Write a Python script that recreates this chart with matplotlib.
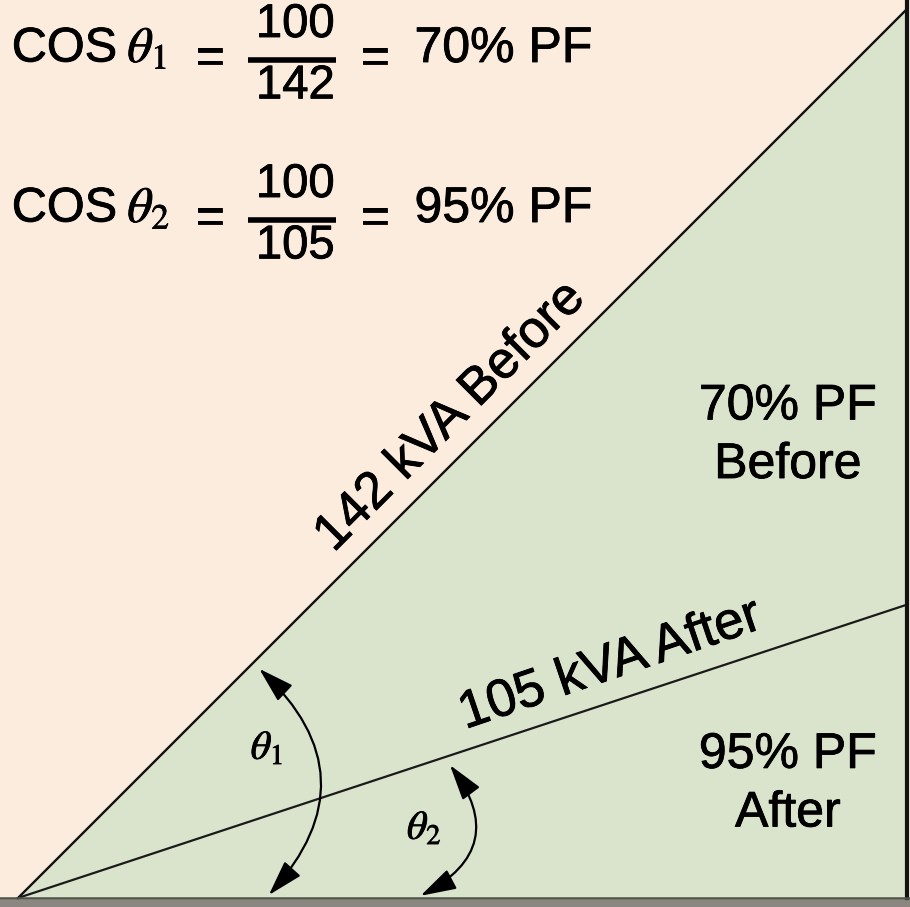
import numpy as np
import matplotlib
matplotlib.use('Agg')
import matplotlib.pyplot as plt
import matplotlib.patheffects as pe
from matplotlib.patches import FancyArrowPatch, Polygon

# power triangle values (kW, kVAR)
kw = 100
kvar_before = 100
kvar_after = 33
kva_labels = ['142 kVA Before', '105 kVA After']
pf_labels = ['70% PF\nBefore', '95% PF\nAfter']
numerators = ['100', '100']
denominators = ['142', '105']
pf_results = ['70% PF', '95% PF']

peach = '#fbecde'
green = '#dae4cd'

plt.rcParams['font.family'] = ['Liberation Sans', 'DejaVu Sans']
plt.rcParams['mathtext.fontset'] = 'stix'

# slightly heavier strokes, like the blurry print
heavy = [pe.withStroke(linewidth=0.6, foreground='black')]


def label(x, y, s, size=36, **kw_):
    kw_.setdefault('ha', 'center')
    kw_.setdefault('va', 'center')
    return ax.text(x, y, s, fontsize=size, zorder=5, path_effects=heavy, **kw_)


fig = plt.figure(figsize=(9.1, 9.07), dpi=100)
ax = fig.add_axes([0, 0, 1, 1])
ax.set_facecolor(peach)
fig.patch.set_facecolor(peach)

# green region under the 142 kVA line
ax.add_patch(Polygon([(0, 0), (kw, kvar_before), (kw, 0)], closed=True,
                     facecolor=green, edgecolor='none', zorder=1))
ax.plot([0, kw], [0, kvar_before], color='#111111', lw=1.7, zorder=3)
ax.plot([0, kw], [0, kvar_after], color='#1a1a1a', lw=1.6, zorder=3)
ax.plot([kw, kw], [0, 110], color='#111111', lw=3.0, zorder=3)

# base line
ax.axhspan(-5, -0.2, color='#8b8680', zorder=2, lw=0)
ax.axhline(0, color='#4e544a', lw=1.8, zorder=3)

# angle arcs with arrows on both ends
for p0, p1, rad in [((26.9, 26.0), (28.0, 0.1), -0.5), ((48.4, 15.2), (45.0, 0.1), -0.6)]:
    arc = FancyArrowPatch(p0, p1, connectionstyle=f'arc3,rad={rad}',
                          arrowstyle='<|-|>,head_length=1.1,head_width=0.33',
                          color='black', lw=1.6, mutation_scale=20, zorder=4)
    ax.add_patch(arc)

label(28.0, 16.9, r'$\theta_1$', size=29)
label(45.7, 7.9, r'$\theta_2$', size=29)

# labels along the lines
ang_b = np.degrees(np.arctan2(kvar_before, kw))
ang_a = np.degrees(np.arctan2(kvar_after, kw))
label(35.5, 38.8, kva_labels[0], size=37.5, rotation=ang_b, rotation_mode='anchor',
      ha='left', va='baseline')
label(50.3, 19.0, kva_labels[1], size=38, rotation=ang_a + 0.5, rotation_mode='anchor',
      ha='left', va='baseline')

# PF region labels
label(86.6, 52.0, pf_labels[0], linespacing=1.35)
label(86.6, 12.8, pf_labels[1], linespacing=1.35)

# cos formulas at the top
for i in range(2):
    y0 = 95.5 - 18.0 * i
    label(-0.7, y0, 'COS', size=35, ha='left')
    label(12.3, y0, r'$\theta_{%d}$' % (i + 1), ha='left')
    label(21.6, y0 - 1.2, '=')
    label(31.2, y0 + 2.7, numerators[i], size=34)
    ax.plot([25.9, 35.8], [y0 - 1.2, y0 - 1.2], color='black', lw=4.0, zorder=5,
            solid_capstyle='butt')
    label(31.2, y0 - 4.2, denominators[i], size=34)
    label(40.2, y0 - 1.2, '=')
    label(44.6, y0, pf_results[i], ha='left')

ax.set_xlim(-18 / 8.89, 892 / 8.89)
ax.set_ylim(-9 / 8.89, 898 / 8.89)
ax.axis('off')
fig.savefig('out.png', dpi=100, facecolor=peach)
